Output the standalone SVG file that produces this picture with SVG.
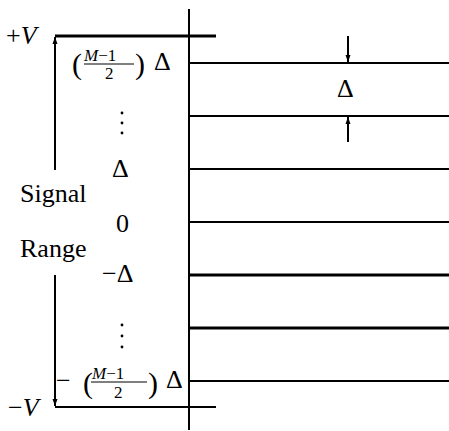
<svg xmlns="http://www.w3.org/2000/svg" width="449" height="431" viewBox="0 0 449 431">
<style>
text{fill:#000}
.t{font-size:26px}
.s{font-size:17px}
.p{font-size:30px}
.i{font-style:italic}
.ln{stroke:#000;stroke-width:2;fill:none}
.th{stroke:#000;stroke-width:3;fill:none}
</style>
<defs>
<marker id="ah" markerWidth="8" markerHeight="8" refX="7" refY="3" orient="auto" markerUnits="userSpaceOnUse">
<path d="M0,0.5 L7,3 L0,5.5 Z" fill="#000"/>
</marker>
</defs>
<g id="connectors">
<line class="ln" x1="189" y1="9" x2="189" y2="430"/>
<line class="th" x1="55" y1="36" x2="216" y2="36"/>
<line class="ln" x1="55" y1="407" x2="216" y2="407"/>
<line class="ln" x1="189" y1="63" x2="449" y2="63"/>
<line class="ln" x1="189" y1="116" x2="449" y2="116"/>
<line class="ln" x1="189" y1="169" x2="449" y2="169"/>
<line class="ln" x1="189" y1="222" x2="449" y2="222"/>
<line class="th" x1="189" y1="275" x2="449" y2="275"/>
<line class="th" x1="189" y1="328" x2="449" y2="328"/>
<line class="ln" x1="189" y1="381" x2="449" y2="381"/>
<line class="ln" x1="55" y1="170" x2="55" y2="37" marker-end="url(#ah)"/>
<line class="ln" x1="55" y1="275" x2="55" y2="406" marker-end="url(#ah)"/>
<line class="ln" x1="348" y1="36" x2="348" y2="62" marker-end="url(#ah)"/>
<line class="ln" x1="348" y1="142" x2="348" y2="117" marker-end="url(#ah)"/>
</g>
<g font-family="Liberation Serif, DejaVu Serif, serif">
<g id="plusV"><text class="t" x="6" y="44">+<tspan class="i">V</tspan></text></g>
<g id="minusV"><text class="t" x="8" y="416">−<tspan class="i">V</tspan></text></g>
<g id="topLevel">
<text class="p" x="72" y="74">(</text>
<text class="s" x="84" y="61"><tspan class="i">M</tspan>−1</text>
<line x1="84" y1="64" x2="134" y2="64" stroke="#000" stroke-width="1"/>
<text class="s" x="105" y="79">2</text>
<text class="p" x="135" y="74">)</text>
<text class="t" x="154" y="70">Δ</text>
</g>
<g id="dotsTop"><circle cx="122" cy="113" r="1.4"/><circle cx="122" cy="123" r="1.4"/><circle cx="122" cy="133" r="1.4"/></g>
<g id="delta"><text class="t" x="112" y="177">Δ</text></g>
<g id="signal"><text class="t" x="20" y="202">Signal</text></g>
<g id="zero"><text class="t" x="116" y="232">0</text></g>
<g id="range"><text class="t" x="20" y="257">Range</text></g>
<g id="minusDelta"><text class="t" x="102" y="282">−Δ</text></g>
<g id="dotsBottom"><circle cx="122" cy="325" r="1.4"/><circle cx="122" cy="336" r="1.4"/><circle cx="122" cy="347" r="1.4"/></g>
<g id="bottomLevel">
<text class="t" x="56" y="389">−</text>
<text class="p" x="83" y="393">(</text>
<text class="s" x="92" y="379"><tspan class="i">M</tspan>−1</text>
<line x1="91" y1="382" x2="147" y2="382" stroke="#000" stroke-width="1"/>
<text class="s" x="114" y="398">2</text>
<text class="p" x="148" y="393">)</text>
<text class="t" x="166" y="388">Δ</text>
</g>
<g id="stepDelta"><text class="t" x="337" y="97">Δ</text></g>
</g>
</svg>
